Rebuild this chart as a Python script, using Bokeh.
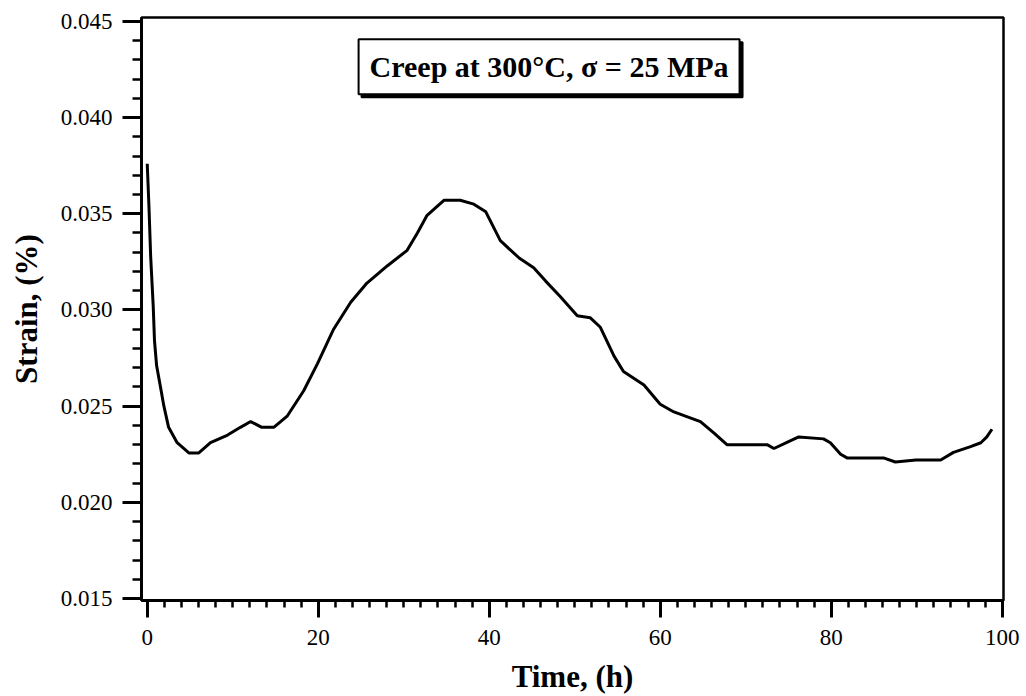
from bokeh.plotting import figure
from bokeh.models import Range1d, FixedTicker, Label, ColumnDataSource, CustomJSTickFormatter
from bokeh.embed import file_html
from bokeh.resources import INLINE

# Data
time_h = [0, 0.2, 0.4, 0.7, 0.85, 1.1, 1.55, 1.95, 2.5, 3.5,
          4.9, 6.0, 7.4, 9.4, 10.9, 12.1, 13.4, 14.8, 16.4, 18.3,
          19.9, 21.8, 23.8, 25.7, 28.1, 30.4, 31.6, 32.7, 34.7, 36.6,
          38.2, 39.6, 41.3, 43.5, 45.2, 46.6, 48.3, 50.3, 51.8, 53.0,
          54.6, 55.7, 58.1, 60.0, 61.6, 64.7, 66.3, 67.8, 69.8, 72.5,
          73.3, 75.2, 76.2, 79.1, 79.9, 81.1, 81.9, 86.2, 87.5, 89.9,
          92.8, 94.3, 96.3, 97.5, 98.2, 98.8]
strain_pct = [0.0376, 0.0354, 0.0328, 0.0302, 0.0284, 0.0271, 0.0260, 0.0250, 0.0239, 0.0231,
              0.02256, 0.02256, 0.0231, 0.0235, 0.0239, 0.0242, 0.0239, 0.0239, 0.0245, 0.0258,
              0.0272, 0.0290, 0.0304, 0.0314, 0.0323, 0.0331, 0.0340, 0.0349, 0.0357, 0.0357,
              0.0355, 0.0351, 0.0336, 0.0327, 0.0322, 0.0315, 0.0307, 0.0297, 0.0296, 0.0291,
              0.0276, 0.0268, 0.0261, 0.0251, 0.0247, 0.0242, 0.0236, 0.0230, 0.0230, 0.0230,
              0.0228, 0.0232, 0.0234, 0.0233, 0.0231, 0.0225, 0.0223, 0.0223, 0.0221, 0.0222,
              0.0222, 0.0226, 0.0229, 0.0231, 0.0234, 0.0238]

x_major_ticks = [0, 20, 40, 60, 80, 100]
x_minor_ticks = [v for v in range(0, 101, 2)]
y_major_ticks = [0.015, 0.020, 0.025, 0.030, 0.035, 0.040, 0.045]
y_minor_ticks = [round(0.015 + 0.001 * i, 3) for i in range(31)]

title_text = "Creep at 300°C, σ = 25 MPa"
x_label = "Time, (h)"
y_label = "Strain, (%)"

FONT = "Liberation Serif"

p = figure(width=1026, height=696, output_backend="svg", toolbar_location=None,
           x_range=Range1d(-0.67, 100.15), y_range=Range1d(0.0149, 0.0452),
           min_border_left=141, min_border_right=23, min_border_top=17, min_border_bottom=95)

p.background_fill_color = "white"
p.border_fill_color = "white"
p.grid.visible = False
p.outline_line_color = "black"
p.outline_line_width = 2.5
p.outline_line_alpha = 1.0

src = ColumnDataSource(dict(x=time_h, y=strain_pct))
p.line("x", "y", source=src, line_color="black", line_width=3)

# X axis
xa = p.xaxis[0]
xa.ticker = FixedTicker(ticks=x_major_ticks, minor_ticks=x_minor_ticks)
xa.major_tick_out = 17
xa.major_tick_in = 0
xa.minor_tick_out = 7
xa.minor_tick_in = 0
xa.major_tick_line_width = 3
xa.minor_tick_line_width = 2.5
xa.major_tick_line_color = "black"
xa.minor_tick_line_color = "black"
xa.axis_line_width = 3
xa.axis_line_color = "black"
xa.major_label_text_font = FONT
xa.major_label_text_font_size = "23px"
xa.major_label_text_color = "black"
xa.major_label_standoff = 12
xa.axis_label = x_label
xa.axis_label_text_font = FONT
xa.axis_label_text_font_style = "bold"
xa.axis_label_text_font_size = "31px"
xa.axis_label_text_color = "black"
xa.axis_label_standoff = 11

# Y axis
ya = p.yaxis[0]
ya.ticker = FixedTicker(ticks=y_major_ticks, minor_ticks=y_minor_ticks)
ya.major_tick_out = 19
ya.major_tick_in = 0
ya.minor_tick_out = 9
ya.minor_tick_in = 0
ya.major_tick_line_width = 3
ya.minor_tick_line_width = 2.5
ya.major_tick_line_color = "black"
ya.minor_tick_line_color = "black"
ya.axis_line_width = 3
ya.axis_line_color = "black"
ya.major_label_text_font = FONT
ya.major_label_text_font_size = "23px"
ya.major_label_text_color = "black"
ya.major_label_standoff = 10
ya.formatter = CustomJSTickFormatter(code="return tick.toFixed(3);")
ya.axis_label = y_label
ya.axis_label_text_font = FONT
ya.axis_label_text_font_style = "bold"
ya.axis_label_text_font_size = "31px"
ya.axis_label_text_color = "black"
ya.axis_label_standoff = 14

# Boxed annotation with drop shadow
shadow = Label(x=47.0, y=0.04264, text=title_text, x_offset=3, y_offset=-3,
               text_align="center", text_baseline="middle",
               text_font=FONT, text_font_style="bold", text_font_size="30px",
               text_color="black",
               background_fill_color="black", background_fill_alpha=1.0,
               border_line_color="black", border_line_width=2,
               padding=11)
p.add_layout(shadow)
box = Label(x=47.0, y=0.04264, text=title_text,
            text_align="center", text_baseline="middle",
            text_font=FONT, text_font_style="bold", text_font_size="30px",
            text_color="black",
            background_fill_color="white", background_fill_alpha=1.0,
            border_line_color="black", border_line_width=2,
            padding=11)
p.add_layout(box)

open("out.html", "w").write(file_html(p, INLINE))
